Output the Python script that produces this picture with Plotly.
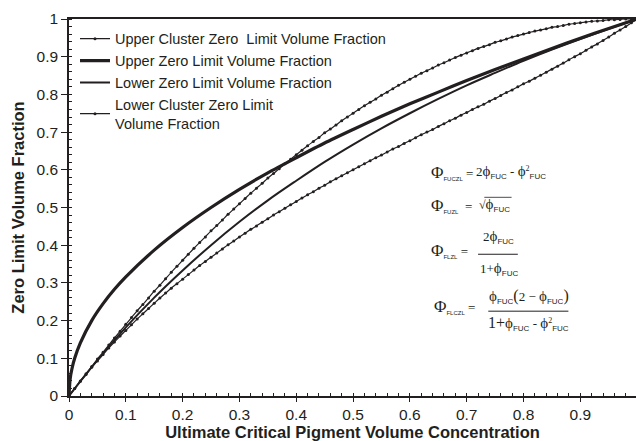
import plotly.graph_objects as go

# ---- data ----
x_cluster = [0.00, 0.01, 0.02, 0.03, 0.04, 0.05, 0.06, 0.07, 0.08, 0.09,
             0.10, 0.11, 0.12, 0.13, 0.14, 0.15, 0.16, 0.17, 0.18, 0.19,
             0.20, 0.21, 0.22, 0.23, 0.24, 0.25, 0.26, 0.27, 0.28, 0.29,
             0.30, 0.31, 0.32, 0.33, 0.34, 0.35, 0.36, 0.37, 0.38, 0.39,
             0.40, 0.41, 0.42, 0.43, 0.44, 0.45, 0.46, 0.47, 0.48, 0.49,
             0.50, 0.51, 0.52, 0.53, 0.54, 0.55, 0.56, 0.57, 0.58, 0.59,
             0.60, 0.61, 0.62, 0.63, 0.64, 0.65, 0.66, 0.67, 0.68, 0.69,
             0.70, 0.71, 0.72, 0.73, 0.74, 0.75, 0.76, 0.77, 0.78, 0.79,
             0.80, 0.81, 0.82, 0.83, 0.84, 0.85, 0.86, 0.87, 0.88, 0.89,
             0.90, 0.91, 0.92, 0.93, 0.94, 0.95, 0.96, 0.97, 0.98, 0.99,
             1.00]
upper_cluster = [0.000, 0.020, 0.040, 0.059, 0.078, 0.098, 0.116, 0.135, 0.154, 0.172,
                 0.190, 0.208, 0.226, 0.243, 0.260, 0.278, 0.294, 0.311, 0.328, 0.344,
                 0.360, 0.376, 0.392, 0.407, 0.422, 0.438, 0.452, 0.467, 0.482, 0.496,
                 0.510, 0.524, 0.538, 0.551, 0.564, 0.578, 0.590, 0.603, 0.616, 0.628,
                 0.640, 0.652, 0.664, 0.675, 0.686, 0.698, 0.708, 0.719, 0.730, 0.740,
                 0.750, 0.760, 0.770, 0.779, 0.788, 0.798, 0.806, 0.815, 0.824, 0.832,
                 0.840, 0.848, 0.856, 0.863, 0.870, 0.878, 0.884, 0.891, 0.898, 0.904,
                 0.910, 0.916, 0.922, 0.927, 0.932, 0.938, 0.942, 0.947, 0.952, 0.956,
                 0.960, 0.964, 0.968, 0.971, 0.974, 0.978, 0.980, 0.983, 0.986, 0.988,
                 0.990, 0.992, 0.994, 0.995, 0.996, 0.998, 0.998, 0.999, 1.000, 1.000,
                 1.000]
lower_cluster = [0.000, 0.020, 0.039, 0.057, 0.076, 0.093, 0.110, 0.127, 0.143, 0.159,
                 0.174, 0.189, 0.204, 0.218, 0.232, 0.246, 0.260, 0.273, 0.286, 0.298,
                 0.310, 0.322, 0.334, 0.346, 0.357, 0.368, 0.379, 0.390, 0.401, 0.411,
                 0.422, 0.432, 0.442, 0.451, 0.461, 0.470, 0.480, 0.489, 0.498, 0.507,
                 0.516, 0.525, 0.534, 0.542, 0.551, 0.559, 0.568, 0.576, 0.584, 0.592,
                 0.600, 0.608, 0.616, 0.624, 0.632, 0.639, 0.647, 0.655, 0.662, 0.670,
                 0.677, 0.685, 0.693, 0.700, 0.707, 0.715, 0.722, 0.730, 0.737, 0.745,
                 0.752, 0.760, 0.767, 0.774, 0.782, 0.789, 0.797, 0.805, 0.812, 0.820,
                 0.828, 0.835, 0.843, 0.851, 0.859, 0.867, 0.875, 0.883, 0.892, 0.900,
                 0.908, 0.917, 0.926, 0.934, 0.943, 0.952, 0.962, 0.971, 0.980, 0.990,
                 1.000]

x_upper = [0.0, 0.002, 0.005, 0.01, 0.02, 0.04, 0.06, 0.08, 0.10, 0.15, 0.20, 0.25,
           0.30, 0.35, 0.40, 0.45, 0.50, 0.55, 0.60, 0.65, 0.70, 0.75, 0.80, 0.85,
           0.90, 0.95, 1.00]
upper_zero = [0.000, 0.045, 0.071, 0.100, 0.141, 0.200, 0.245, 0.283, 0.316, 0.387, 0.447, 0.500,
              0.548, 0.592, 0.632, 0.671, 0.707, 0.742, 0.775, 0.806, 0.837, 0.866, 0.894, 0.922,
              0.949, 0.975, 1.000]

x_lower = [0.00, 0.05, 0.10, 0.15, 0.20, 0.25, 0.30, 0.35, 0.40, 0.45, 0.50,
           0.55, 0.60, 0.65, 0.70, 0.75, 0.80, 0.85, 0.90, 0.95, 1.00]
lower_zero = [0.000, 0.095, 0.182, 0.261, 0.333, 0.400, 0.462, 0.519, 0.571, 0.621, 0.667,
              0.710, 0.750, 0.788, 0.824, 0.857, 0.889, 0.919, 0.947, 0.974, 1.000]

x_ticks = [0, 0.1, 0.2, 0.3, 0.4, 0.5, 0.6, 0.7, 0.8, 0.9]
x_ticklabels = ["0", "0.1", "0.2", "0.3", "0.4", "0.5", "0.6", "0.7", "0.8", "0.9"]
y_ticks = [0, 0.1, 0.2, 0.3, 0.4, 0.5, 0.6, 0.7, 0.8, 0.9, 1]
y_ticklabels = ["0", "0.1", "0.2", "0.3", "0.4", "0.5", "0.6", "0.7", "0.8", "0.9", "1"]

names = ["Upper Cluster Zero  Limit Volume Fraction",
         "Upper Zero Limit Volume Fraction",
         "Lower Zero Limit Volume Fraction",
         "Lower Cluster Zero Limit<br>Volume Fraction"]

INK = "#231f20"
X_MAX = 0.998

fig = go.Figure()
fig.add_trace(go.Scatter(x=x_cluster, y=upper_cluster, name=names[0], mode="lines+markers",
                         line=dict(color=INK, width=1.2, shape="spline"),
                         marker=dict(color=INK, size=3)))
fig.add_trace(go.Scatter(x=x_upper, y=upper_zero, name=names[1], mode="lines",
                         line=dict(color=INK, width=3.2, shape="spline", smoothing=0.7)))
fig.add_trace(go.Scatter(x=x_lower, y=lower_zero, name=names[2], mode="lines",
                         line=dict(color=INK, width=2, shape="spline")))
fig.add_trace(go.Scatter(x=x_cluster, y=lower_cluster, name=names[3], mode="lines+markers",
                         line=dict(color=INK, width=1.2, shape="spline"),
                         marker=dict(color=INK, size=3)))
# empty trace carrying the overlay axes (inner half of the crossing major ticks)
fig.add_trace(go.Scatter(x=[], y=[], xaxis="x2", yaxis="y2", showlegend=False,
                         hoverinfo="skip"))

SERIF = "Liberation Serif, Times New Roman, serif"
SANS = "Liberation Sans, Arial, sans-serif"


def subP(t):
    # tiny subscript after the capital Phi
    return f"<sub><span style='font-family:{SANS};font-size:6px'>{t}</span></sub>"


def sub(t):
    return f"<sub><span style='font-family:{SANS};font-size:8px'>{t}</span></sub>"


def sup(t):
    return f"<sup><span style='font-size:8px'>{t}</span></sup>"


PHI = "<span style='font-size:17px'>Φ</span>"
phi = "<span style='font-size:15px'>ϕ</span>"

# (x, y, anchor, text)
eq_annots = [
    (0.634, 0.594, "left", f"{PHI}{subP('FUCZL')} ="),
    (0.713, 0.594, "left", f"2{phi}{sub('FUC')} - {phi}{sup('2')}{sub('FUC')}"),
    (0.634, 0.506, "left", f"{PHI}{subP('FUZL')}  ="),
    (0.718, 0.506, "left", f"<span style='font-size:12px'>√</span>{phi}{sub('FUC')}"),
    (0.634, 0.387, "left", f"{PHI}{subP('FLZL')} ="),
    (0.756, 0.421, "center", f"2{phi}{sub('FUC')}"),
    (0.756, 0.337, "center", f"1+{phi}{sub('FUC')}"),
    (0.639, 0.238, "left", f"{PHI}{subP('FLCZL')} ="),
    (0.810, 0.263, "center", f"{phi}{sub('FUC')}<span style='font-size:16px'>(</span>2 − {phi}{sub('FUC')}<span style='font-size:16px'>)</span>"),
    (0.808, 0.191, "center", f"<span style='font-size:16px'>1+</span>{phi}{sub('FUC')} - {phi}{sup('2')}{sub('FUC')}"),
]
annotations = []
for ax_, ay_, anc, txt in eq_annots:
    annotations.append(dict(x=ax_, y=ay_, xref="x", yref="y", text=txt, showarrow=False,
                            xanchor=anc, yanchor="middle",
                            font=dict(family=SERIF, size=13, color=INK)))

shapes = [
    dict(type="line", xref="x", yref="y", x0=0.720, x1=0.790, y0=0.376, y1=0.376,
         line=dict(color=INK, width=1)),
    dict(type="line", xref="x", yref="y", x0=0.738, x1=0.879, y0=0.225, y1=0.225,
         line=dict(color=INK, width=1)),
    dict(type="line", xref="x", yref="y", x0=0.731, x1=0.779, y0=0.527, y1=0.527,
         line=dict(color=INK, width=0.8)),
]

fig.update_layout(
    width=636, height=441,
    margin=dict(l=69, r=0, t=19, b=45),
    paper_bgcolor="white", plot_bgcolor="white",
    font=dict(family=SANS, size=14, color=INK),
    showlegend=True,
    legend=dict(x=0.0106, y=0.99, xanchor="left", yanchor="top",
                bgcolor="rgba(0,0,0,0)", font=dict(size=14.5, color=INK),
                tracegroupgap=0, itemwidth=30),
    annotations=annotations,
    shapes=shapes,
    xaxis2=dict(overlaying="x", anchor="y2", range=[0, X_MAX], tickvals=x_ticks,
                showticklabels=False, showgrid=False, zeroline=False, showline=False,
                ticks="inside", ticklen=3, tickcolor=INK, tickwidth=1, side="bottom"),
    yaxis2=dict(overlaying="y", anchor="x2", range=[0, 1], tickvals=y_ticks,
                showticklabels=False, showgrid=False, zeroline=False, showline=False,
                ticks="inside", ticklen=3, tickcolor=INK, tickwidth=1, side="left"),
)
fig.layout.xaxis.update(range=[0, X_MAX], tickvals=x_ticks, ticktext=x_ticklabels,
                        showgrid=False, zeroline=False,
                        showline=True, linecolor=INK, linewidth=1.5, mirror=True,
                        ticks="outside", ticklen=4, tickcolor=INK, tickwidth=1,
                        minor=dict(dtick=0.02, ticks="inside", ticklen=3, tickcolor=INK, tickwidth=1),
                        tickfont=dict(size=15.5, color=INK),
                        title=dict(text="Ultimate Critical Pigment Volume Concentration",
                                   font=dict(size=16.5, color=INK, weight="bold"), standoff=6))
fig.layout.yaxis.update(range=[0, 1], tickvals=y_ticks, ticktext=y_ticklabels,
                        showgrid=False, zeroline=False,
                        showline=True, linecolor=INK, linewidth=1.5,
                        ticks="outside", ticklen=6, tickcolor=INK, tickwidth=1,
                        minor=dict(dtick=0.02, ticks="inside", ticklen=3, tickcolor=INK, tickwidth=1),
                        tickfont=dict(size=15.5, color=INK),
                        title=dict(text="Zero Limit Volume Fraction",
                                   font=dict(size=16.5, color=INK, weight="bold"), standoff=8))

fig.write_html("out.html")
